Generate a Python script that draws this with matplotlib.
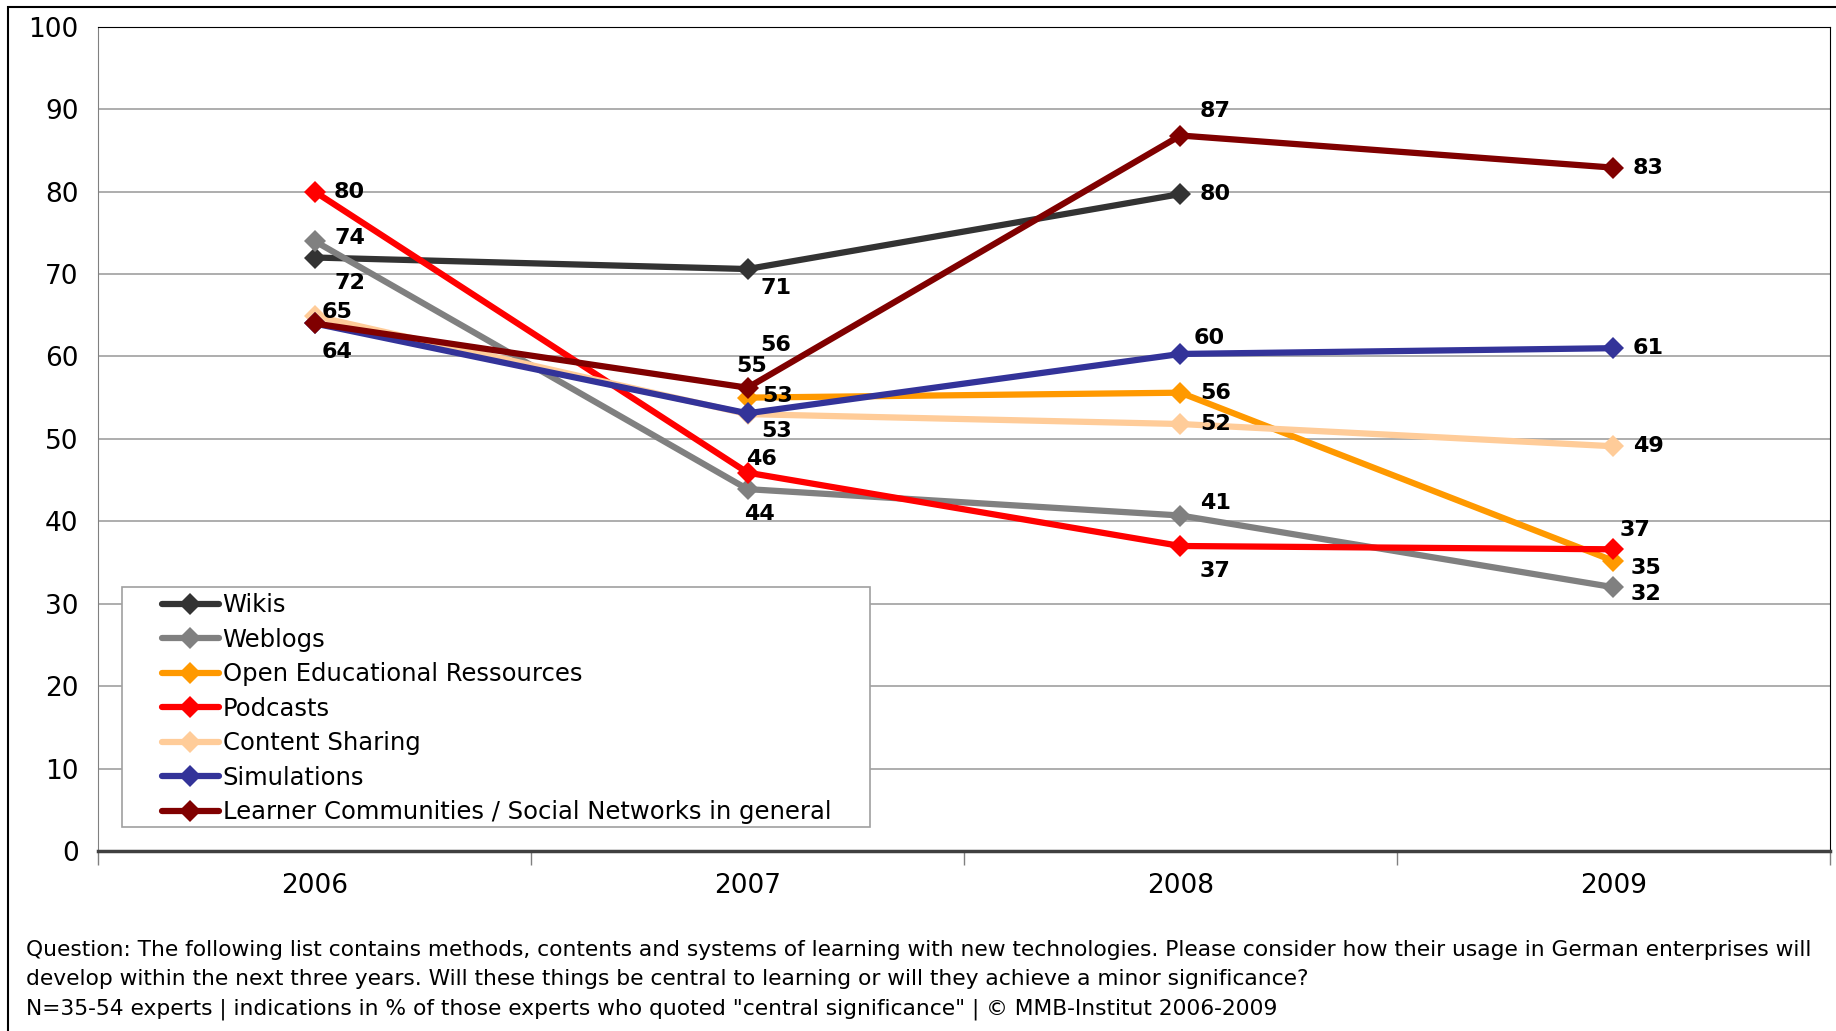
#!/usr/bin/env python
# -*- coding: utf-8 -*-

import numpy as np
import matplotlib
matplotlib.use('Agg')
import matplotlib.pyplot as plt
from matplotlib.patches import Rectangle

# years on the x axis
years = ['2006', '2007', '2008', '2009']

# share of experts (%) per series, None = no value that year
wikis = [72, 70.6, 79.7, None]
weblogs = [74, 43.9, 40.7, 32]
oer = [None, 55, 55.6, 35.2]
podcasts = [80, 45.9, 37, 36.6]
content_sharing = [64.9, 53, 51.8, 49.1]
simulations = [64, 53.1, 60.3, 61]
learner_comm = [64, 56.2, 86.8, 82.9]

series_names = ['Wikis', 'Weblogs', 'Open Educational Ressources', 'Podcasts',
                'Content Sharing', 'Simulations',
                'Learner Communities / Social Networks in general']
series_values = [wikis, weblogs, oer, podcasts, content_sharing, simulations, learner_comm]
colors = ['#333333', '#808080', '#FF9900', '#FF0000', '#FFCC99', '#333399', '#800000']

# where the value labels sit relative to the marker (pixels, x right / y up)
label_offsets = [
    [(35, -25), (28, -19), (35, 0), None],
    [(35, 3), (12, -25), (35, 13), (32, -7)],
    [None, (4, 32), (35, 0), (32, -7)],
    [(35, 0), (14, 14), (35, -25), (22, 19)],
    [(23, 4), (30, 18), (35, 0), (35, 0)],
    [(23, -29), (29, -18), (29, 16), (35, 0)],
    [None, (28, 43), (35, 25), (35, 0)],
]

question = ('Question: The following list contains methods, contents and systems of learning with new '
            'technologies. Please consider how their usage in German enterprises will\n'
            'develop within the next three years. Will these things be central to learning or will '
            'they achieve a minor significance?\n'
            'N=35-54 experts | indications in % of those experts who quoted "central significance" '
            '| \u00a9 MMB-Institut 2006-2009')

plt.rcParams['font.family'] = ['DejaVu Sans']

fig = plt.figure(figsize=(18.36, 10.31), dpi=100)
ax = fig.add_axes([0.0534, 0.1746, 0.9433, 0.7995])

# outer chart frame (top and left edge visible)
fig.patches.append(Rectangle((8 / 1836, -0.1), 1.2, 1.1 - 7 / 1031, transform=fig.transFigure,
                             fill=False, edgecolor='black', linewidth=1.5))

x = np.arange(len(years))
for name, vals, col, offs in zip(series_names, series_values, colors, label_offsets):
    xs = [xi for xi, v in zip(x, vals) if v is not None]
    ys = [v for v in vals if v is not None]
    ax.plot(xs, ys, color=col, linewidth=4.5, marker='D', markersize=11,
            markeredgewidth=0, label=name, solid_capstyle='round')
    for xi, v, off in zip(x, vals, offs):
        if v is None or off is None:
            continue
        ax.annotate('%.0f' % v, (xi, v), xytext=off, textcoords='offset pixels',
                    ha='center', va='center', fontsize=16, fontweight='bold', color='black')

ax.set_xlim(-0.5, 3.5)
ax.set_ylim(0, 100)
ax.set_yticks(range(0, 101, 10))
ax.yaxis.grid(True, color='#A0A0A0', linewidth=1.2)
ax.set_axisbelow(True)
ax.tick_params(axis='y', length=0, labelsize=19, pad=14)

# category labels between tick marks
ax.set_xticks(np.arange(-0.5, 4, 1))
ax.set_xticklabels([])
ax.set_xticks(x, minor=True)
ax.set_xticklabels(years, minor=True, fontsize=19)
ax.tick_params(axis='x', which='major', length=10, width=1, color='#808080', direction='out')
ax.tick_params(axis='x', which='minor', length=0, pad=16)

ax.spines['left'].set_color('#808080')
ax.spines['bottom'].set_color('#404040')
ax.spines['bottom'].set_linewidth(2.5)
ax.spines['top'].set_color('black')
ax.spines['right'].set_color('black')

# legend box drawn on its own, legend entries indented inside it
ax.add_patch(Rectangle((0.0137, 0.0295), 0.432, 0.2913, transform=ax.transAxes,
                       facecolor='white', edgecolor='#A0A0A0', linewidth=1.2, zorder=5))
leg = ax.legend(loc='upper left', bbox_to_anchor=(0.0367, 0.3125), borderaxespad=0,
                borderpad=0, fontsize=17.5, handlelength=2.36, handletextpad=0.15,
                labelspacing=0.43, frameon=False)
leg.set_zorder(6)

fig.text(26 / 1836, 1 - 940 / 1031, question, ha='left', va='top', fontsize=15.7,
         linespacing=1.58)

fig.savefig('out.png', dpi=100)
